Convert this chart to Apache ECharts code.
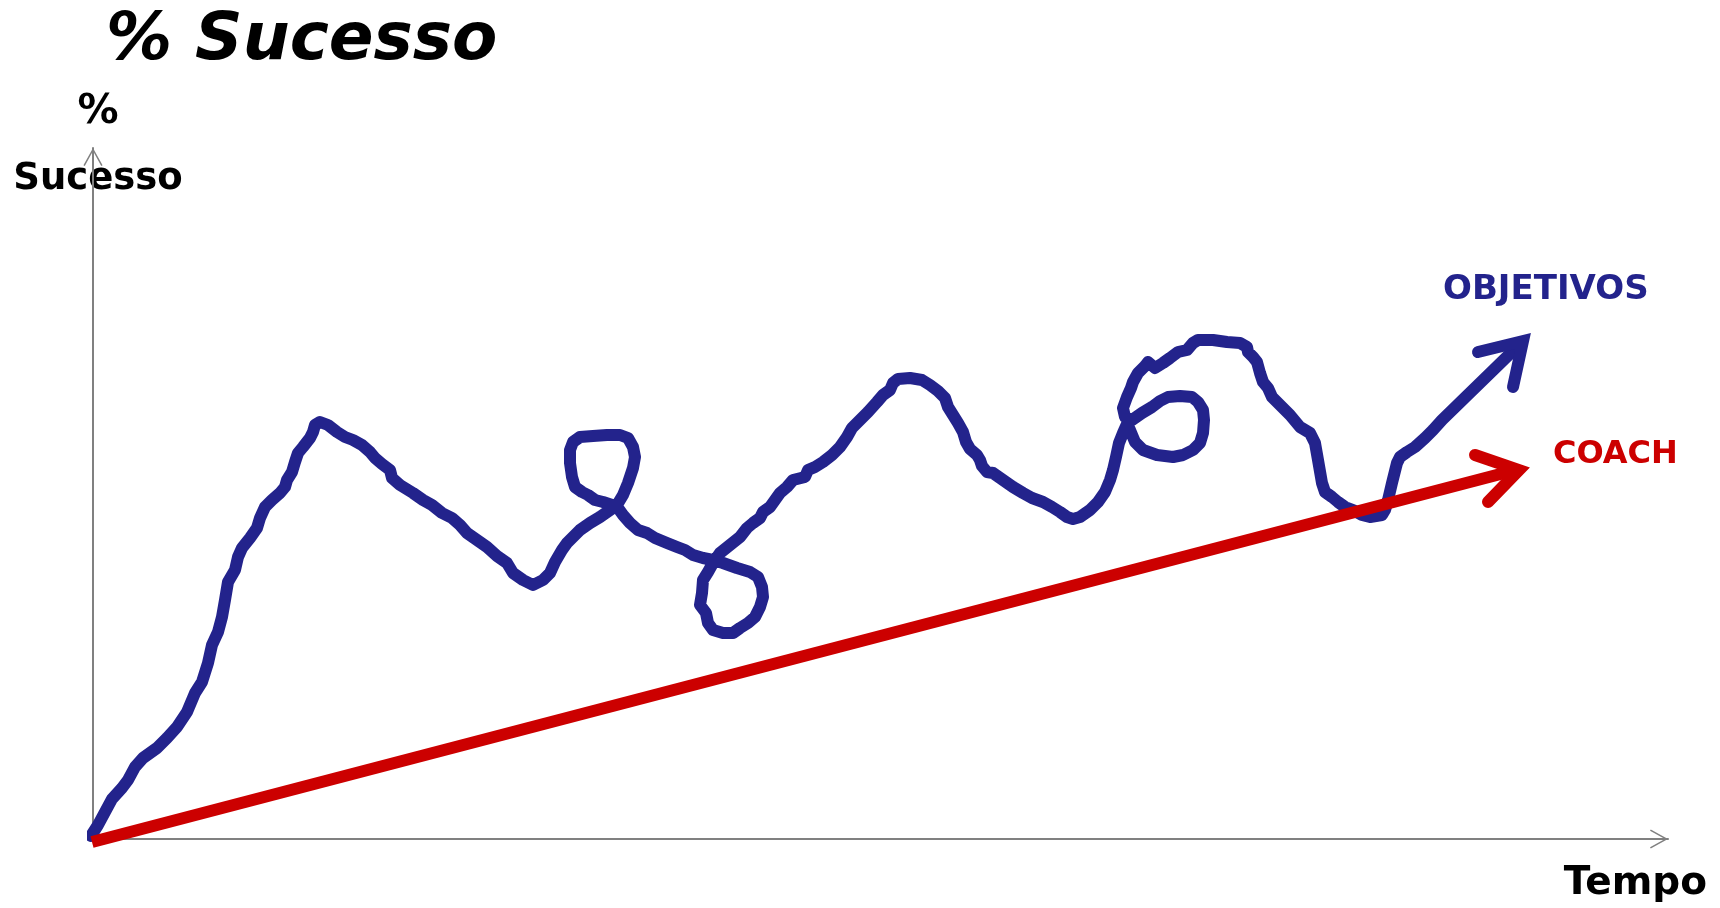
<!DOCTYPE html>
<html>
<head>
<meta charset="utf-8">
<script src="https://cdn.jsdelivr.net/npm/echarts@6/dist/echarts.min.js"></script>
<style>
html,body{margin:0;padding:0;background:#fff;}
#chart{width:1720px;height:908px;}
</style>
</head>
<body>
<div id="chart"></div>
<script>
// Axis ranges (time on x, % success on y), in chart units
var xRange = [0, 1575];
var yRange = [0, 691];

// Texts
var chartTitle = '% Sucesso';
var yAxisName = ['%', 'Sucesso'];
var xAxisName = 'Tempo';
var objetivosLabel = 'OBJETIVOS';
var coachLabel = 'COACH';

// OBJETIVOS: free-hand path [tempo, sucesso]
var objetivos = [
[-2,3],[5,14],[12,27],[19,40],[29,51],[35,59],[42,72],[50,81],[64,91],[74,101],[84,112],[94,127],
[102,146],[109,157],[115,176],[119,194],[125,207],[129,222],[132,239],[135,257],[142,269],[145,282],
[149,291],[157,301],[164,311],[167,321],[172,332],[179,339],[187,346],[192,352],[194,359],[199,367],
[202,377],[205,386],[210,392],[217,401],[220,407],[222,414],[227,417],[235,414],[244,407],[252,402],
[260,399],[269,394],[277,387],[282,381],[289,375],[297,369],[299,361],[307,354],[320,346],[330,339],
[339,334],[349,326],[359,321],[367,314],[374,306],[384,299],[394,292],[404,283],[414,276],[420,266],
[430,259],[440,254],[450,259],[457,266],[462,277],[469,289],[474,296],[479,301],[487,309],[497,316],
[507,322],[517,329],[524,334],[530,344],[535,356],[540,371],[542,382],[540,392],[535,401],[527,404],
[514,404],[500,403],[487,402],[480,397],[477,389],[477,376],[479,362],[482,352],[489,347],[495,344],
[502,339],[510,337],[519,334],[525,331],[530,324],[537,316],[545,309],[554,306],[562,301],[574,296],
[584,292],[592,289],[600,284],[610,281],[620,279],[630,276],[644,271],[657,267],[665,262],[669,252],
[670,242],[667,232],[662,222],[655,216],[647,211],[640,206],[630,206],[620,209],[615,216],[613,226],
[607,234],[609,246],[610,259],[615,267],[620,276],[627,286],[637,294],[647,302],[654,311],[660,316],
[667,321],[670,327],[677,332],[682,339],[687,346],[694,352],[700,359],[712,362],[715,369],[722,372],
[730,377],[739,384],[747,392],[754,402],[759,411],[767,419],[775,427],[784,437],[790,444],[797,449],
[800,456],[805,460],[817,461],[829,459],[837,454],[845,448],[852,441],[855,432],[860,424],[865,416],
[870,407],[873,397],[877,390],[884,384],[887,379],[889,373],[894,367],[900,366],[910,359],[920,352],
[930,346],[939,341],[950,337],[959,332],[967,327],[974,322],[980,320],[987,322],[997,329],[1005,337],
[1012,347],[1017,359],[1020,369],[1023,382],[1026,396],[1030,406],[1034,415],[1037,409],[1042,397],
[1050,389],[1064,384],[1080,382],[1090,384],[1100,389],[1107,396],[1110,406],[1111,419],[1110,429],
[1105,437],[1099,442],[1087,443],[1075,442],[1067,438],[1059,432],[1049,426],[1039,419],[1032,422],
[1030,431],[1034,442],[1038,451],[1040,457],[1045,466],[1052,473],[1055,477],[1062,471],[1070,476],
[1077,481],[1085,487],[1094,489],[1100,496],[1105,499],[1120,499],[1134,497],[1147,496],[1154,492],
[1155,487],[1160,482],[1164,477],[1167,466],[1170,457],[1175,451],[1179,442],[1187,434],[1197,424],
[1207,412],[1217,406],[1222,396],[1225,379],[1229,356],[1232,347],[1239,342],[1245,337],[1252,332],
[1260,329],[1269,324],[1277,322],[1289,324],[1292,329],[1295,339],[1299,356],[1304,376],[1307,382],
[1314,387],[1322,392],[1332,401],[1340,409],[1349,419],[1425,493]
];
// OBJETIVOS arrow head: barb, tip, barb
var objetivosHead = [[1385,487],[1430,498],[1420,452]];

// COACH: straight trend
var coach = [[-1,-3],[1419,368]];
// COACH arrow head: barb, tip, barb
var coachHead = [[1382,384],[1426,369],[1395,337]];

var BLUE = '#23238C';
var RED = '#CC0000';
var AXIS = '#808080';
var FONT = 'DejaVu Sans, Verdana, sans-serif';
var chevron = 'path://M0,18 L10,0 L20,18 L18.6,18.8 L10,3.2 L1.4,18.8 Z';

var chart = echarts.init(document.getElementById('chart'));
chart.setOption({
  animation: false,
  backgroundColor: '#fff',
  title: [
    {text: chartTitle, left: 106, top: 9, padding: 0,
     textStyle: {fontFamily: FONT, fontWeight: 'bold', fontStyle: 'italic', fontSize: 66, color: '#000'}},
    {text: objetivosLabel, left: 1443, top: 273, padding: 0,
     textStyle: {fontFamily: FONT, fontWeight: 'bold', fontSize: 34, color: BLUE}},
    {text: coachLabel, left: 1553, top: 439, padding: 0,
     textStyle: {fontFamily: FONT, fontWeight: 'bold', fontSize: 32, color: RED}}
  ],
  grid: {left: 93, right: 52, top: 148, bottom: 69, containLabel: false},
  xAxis: {
    type: 'value', min: xRange[0], max: xRange[1],
    name: xAxisName, nameLocation: 'end', nameGap: 39,
    nameTextStyle: {fontFamily: FONT, fontWeight: 'bold', fontSize: 39, color: '#000',
      align: 'right', verticalAlign: 'top', lineHeight: 39, padding: [25, 0, 0, 0]},
    axisLine: {show: true, onZero: false, lineStyle: {color: AXIS, width: 2},
      symbol: ['none', chevron], symbolSize: [20, 18], symbolOffset: [0, -9]},
    axisTick: {show: false}, axisLabel: {show: false}, splitLine: {show: false}
  },
  yAxis: {
    type: 'value', min: yRange[0], max: yRange[1],
    name: '{p|' + yAxisName[0] + '}\n{s|' + yAxisName[1] + '}',
    nameLocation: 'end', nameGap: -65,
    nameTextStyle: {fontFamily: FONT, fontWeight: 'bold', fontSize: 37, color: '#000',
      align: 'center', verticalAlign: 'bottom', lineHeight: 67, padding: [0, 0, 0, 10],
      rich: {
        p: {fontFamily: FONT, fontWeight: 'bold', fontSize: 41, color: '#000', lineHeight: 67},
        s: {fontFamily: FONT, fontWeight: 'bold', fontSize: 37, color: '#000', lineHeight: 67}
      }},
    axisLine: {show: true, onZero: false, lineStyle: {color: AXIS, width: 2},
      symbol: ['none', chevron], symbolSize: [20, 18], symbolOffset: [0, -9]},
    axisTick: {show: false}, axisLabel: {show: false}, splitLine: {show: false}
  },
  series: [
    {type: 'line', name: objetivosLabel, data: objetivos, showSymbol: false, clip: false, silent: true,
     lineStyle: {color: BLUE, width: 12, cap: 'round', join: 'round'}},
    {type: 'line', name: objetivosLabel + ' seta', data: objetivosHead, showSymbol: false, clip: false, silent: true,
     lineStyle: {color: BLUE, width: 12, cap: 'round', join: 'miter', miterLimit: 10}},
    {type: 'line', name: coachLabel, data: coach, showSymbol: false, clip: false, silent: true,
     lineStyle: {color: RED, width: 12, cap: 'butt'}},
    {type: 'line', name: coachLabel + ' seta', data: coachHead, showSymbol: false, clip: false, silent: true,
     lineStyle: {color: RED, width: 12, cap: 'round', join: 'miter', miterLimit: 10}}
  ]
});
</script>
</body>
</html>
